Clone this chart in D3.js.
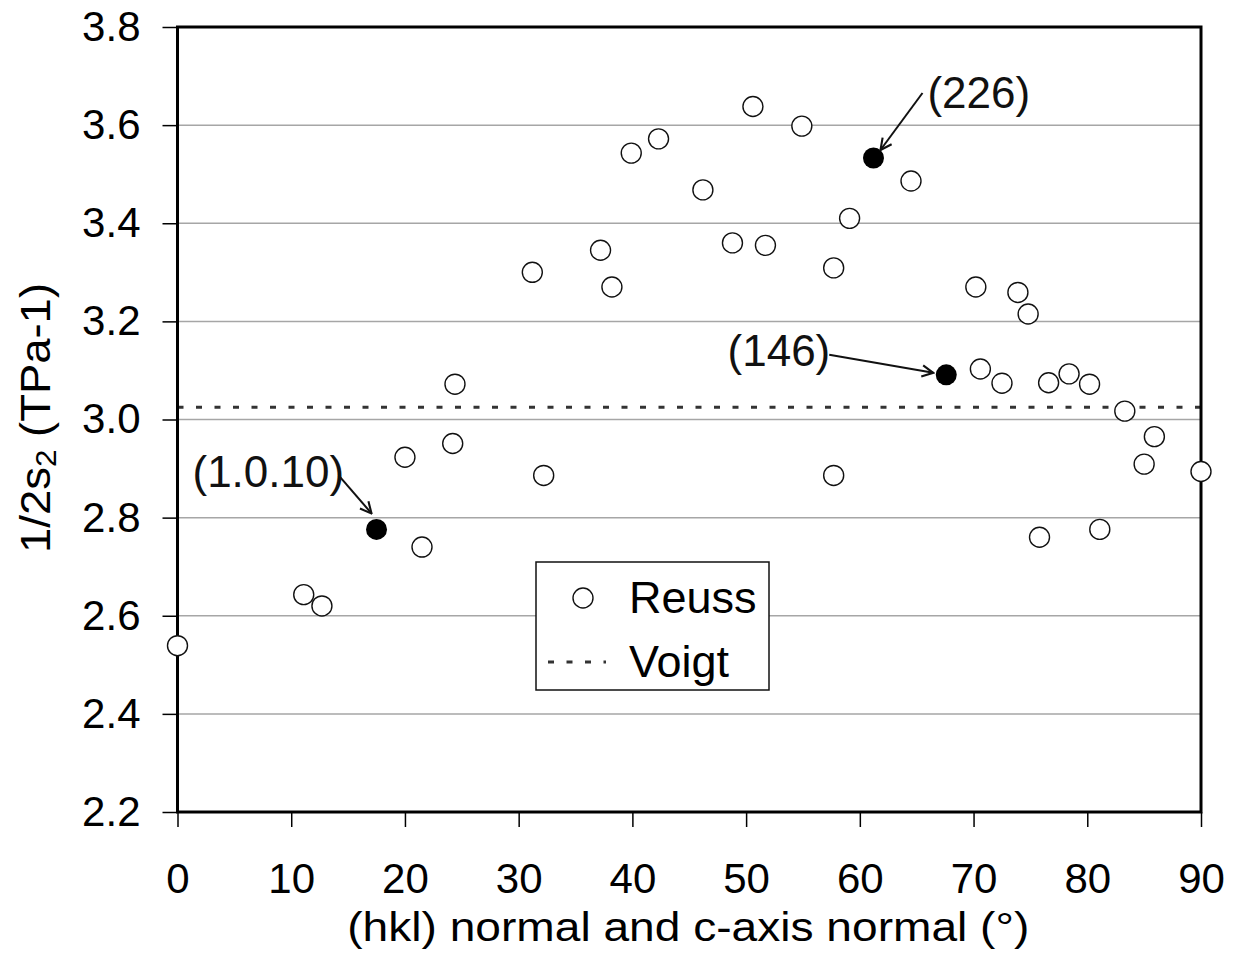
<!DOCTYPE html>
<html>
<head>
<meta charset="utf-8">
<script src="https://cdn.jsdelivr.net/npm/d3@7"></script>
<style>
  body { margin: 0; background: #fff; }
  text { font-family: "Liberation Sans", Arial, sans-serif; }
</style>
</head>
<body>
<script>
// Reuss values, angle (deg) and 1/2 s2 (TPa-1)
const reussX = [0, 11.1, 12.7, 20.0, 21.5, 24.2, 24.4, 31.2, 32.2, 37.2, 38.2, 39.9, 42.3, 46.2,
                48.8, 50.6, 51.7, 54.9, 57.7, 57.7, 59.1, 64.5, 70.2, 70.6, 72.5, 73.9, 74.8,
                76.6, 75.8, 78.4, 80.2, 81.1, 83.3, 85.0, 85.9, 90]
const reussY = [2.539, 2.643, 2.620, 2.923, 2.740, 2.951, 3.072, 3.300, 2.886, 3.345, 3.270, 3.543, 3.572, 3.468,
                3.360, 3.638, 3.355, 3.598, 3.309, 2.886, 3.410, 3.486, 3.270, 3.103, 3.074, 3.259, 3.215,
                3.075, 2.760, 3.093, 3.072, 2.776, 3.017, 2.909, 2.965, 2.894]

// highlighted reflections
const hklLabels = ["(1.0.10)", "(226)", "(146)"]
const hklX = [17.5, 61.2, 67.6]
const hklY = [2.776, 3.533, 3.091]

const voigt = 3.025

const xTicks = [0, 10, 20, 30, 40, 50, 60, 70, 80, 90]
const yTicks = [2.2, 2.4, 2.6, 2.8, 3.0, 3.2, 3.4, 3.6, 3.8]

const width = 1239, height = 959
const margin = {top: 27, right: 38, bottom: 147, left: 177.5}

const svg = d3.select("body").append("svg")
    .attr("width", width)
    .attr("height", height)

const x = d3.scaleLinear().domain([0, 90]).range([margin.left, width - margin.right])
const y = d3.scaleLinear().domain([2.2, 3.8]).range([height - margin.bottom, margin.top])

// gridlines
svg.append("g")
    .selectAll("line")
    .data(yTicks.slice(1, -1))
    .enter().append("line")
    .attr("x1", x(0)).attr("x2", x(90))
    .attr("y1", d => y(d)).attr("y2", d => y(d))
    .style("stroke", "#a6a6a6")
    .style("stroke-width", 1.5)

// axes
const xAxis = svg.append("g")
    .attr("transform", `translate(0, ${y(2.2)})`)
    .call(d3.axisBottom(x).tickValues(xTicks).tickSize(15).tickPadding(36).tickFormat(d3.format("d")))
xAxis.select(".domain").remove()
xAxis.selectAll(".tick line").style("stroke", "#000").style("stroke-width", 1.5)
xAxis.selectAll(".tick text")
    .style("font-size", "42px")
    .style("fill", "#000")
    .attr("dy", "0.71em")

const yAxis = svg.append("g")
    .attr("transform", `translate(${x(0)}, 0)`)
    .call(d3.axisLeft(y).tickValues(yTicks).tickSize(15).tickPadding(22).tickFormat(d3.format(".1f")))
yAxis.select(".domain").remove()
yAxis.selectAll(".tick line").style("stroke", "#000").style("stroke-width", 1.5)
yAxis.selectAll(".tick text")
    .style("font-size", "42px")
    .style("fill", "#000")

// Voigt line
svg.append("line")
    .attr("x1", x(0)).attr("x2", x(90))
    .attr("y1", y(voigt)).attr("y2", y(voigt))
    .style("stroke", "#333")
    .style("stroke-width", 3)
    .style("stroke-dasharray", "6,12.5")

// frame
svg.append("rect")
    .attr("x", x(0)).attr("y", y(3.8))
    .attr("width", x(90) - x(0)).attr("height", y(2.2) - y(3.8))
    .style("fill", "none")
    .style("stroke", "#000")
    .style("stroke-width", 3)

// legend
const legend = svg.append("g").attr("transform", "translate(536, 562)")
legend.append("rect")
    .attr("width", 233).attr("height", 128)
    .style("fill", "#fff").style("stroke", "#111").style("stroke-width", 1.5)
legend.append("circle")
    .attr("cx", 47).attr("cy", 36).attr("r", 10)
    .style("fill", "#fff").style("stroke", "#111").style("stroke-width", 1.4)
legend.append("line")
    .attr("x1", 12).attr("x2", 70).attr("y1", 100).attr("y2", 100)
    .style("stroke", "#333").style("stroke-width", 3).style("stroke-dasharray", "6,12.5")
legend.append("text").attr("x", 93).attr("y", 51).style("font-size", "45px").text("Reuss")
legend.append("text").attr("x", 93).attr("y", 115).style("font-size", "45px").text("Voigt")

// Reuss points
svg.append("g")
    .selectAll("circle")
    .data(reussX.map((d, i) => ({x: d, y: reussY[i]})))
    .enter().append("circle")
    .attr("cx", d => x(d.x))
    .attr("cy", d => y(d.y))
    .attr("r", 10)
    .style("fill", "#fff")
    .style("stroke", "#111")
    .style("stroke-width", 1.4)

// highlighted points
svg.append("g")
    .selectAll("circle")
    .data(hklX.map((d, i) => ({x: d, y: hklY[i]})))
    .enter().append("circle")
    .attr("cx", d => x(d.x))
    .attr("cy", d => y(d.y))
    .attr("r", 10.5)
    .style("fill", "#000")

// annotations: text offset and arrow start/end, relative to the point
const defs = svg.append("defs")
defs.append("marker")
    .attr("id", "arrow")
    .attr("viewBox", "0 0 10 10")
    .attr("refX", 9).attr("refY", 5)
    .attr("markerWidth", 7).attr("markerHeight", 7)
    .attr("orient", "auto-start-reverse")
    .append("path")
    .attr("d", "M1,1 L9,5 L1,9")
    .style("fill", "none").style("stroke", "#111").style("stroke-width", 1.5)

const annot = [
    {tx: -184, ty: -42, anchor: "start", ax: -37, ay: -53, bx: -5, by: -16},
    {tx: 54, ty: -50, anchor: "start", ax: 49, ay: -65, bx: 7, by: -8},
    {tx: -116, ty: -9, anchor: "end", ax: -117, ay: -20, bx: -13, by: -2}
]
annot.forEach((a, i) => {
    const px = x(hklX[i]), py = y(hklY[i])
    svg.append("line")
        .attr("x1", px + a.ax).attr("y1", py + a.ay)
        .attr("x2", px + a.bx).attr("y2", py + a.by)
        .style("stroke", "#111").style("stroke-width", 2)
        .attr("marker-end", "url(#arrow)")
    svg.append("text")
        .attr("x", px + a.tx).attr("y", py + a.ty)
        .attr("text-anchor", a.anchor)
        .style("font-size", "44px")
        .style("fill", "#111")
        .text(hklLabels[i])
})

// axis titles
svg.append("text")
    .attr("x", (x(0) + x(90)) / 2 - 1)
    .attr("y", 941)
    .attr("text-anchor", "middle")
    .attr("textLength", 682)
    .attr("lengthAdjust", "spacingAndGlyphs")
    .style("font-size", "40px")
    .text("(hkl) normal and c-axis normal (°)")

const yTitle = svg.append("text")
    .attr("transform", `translate(50, 418) rotate(-90)`)
    .attr("text-anchor", "middle")
    .attr("textLength", 270)
    .attr("lengthAdjust", "spacingAndGlyphs")
    .style("font-size", "42px")
yTitle.append("tspan").text("1/2s")
yTitle.append("tspan").attr("dy", 6).style("font-size", "29px").text("2")
yTitle.append("tspan").attr("dy", -6).text(" (TPa-1)")
</script>
</body>
</html>
